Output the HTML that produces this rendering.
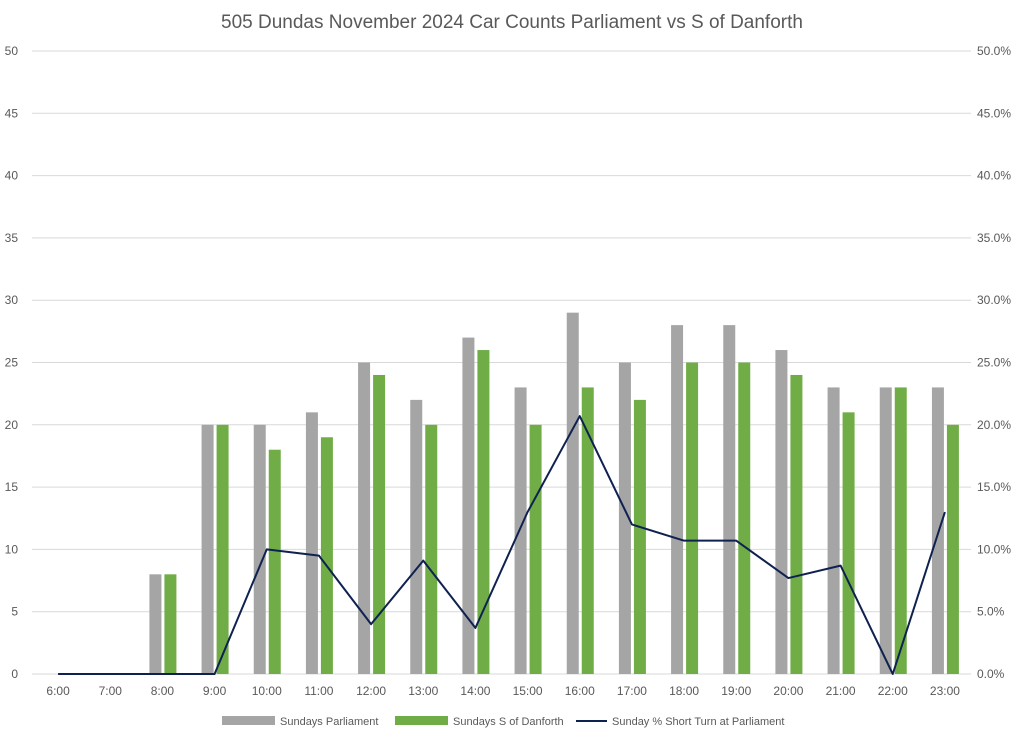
<!DOCTYPE html>
<html><head><meta charset="utf-8">
<style>
body{margin:0;background:#fff;font-family:"Liberation Sans",sans-serif;}
svg text{font-family:"Liberation Sans",sans-serif;}
</style></head>
<body>
<svg id="chart" width="1024" height="733" xmlns="http://www.w3.org/2000/svg">
<text x="512" y="28" text-anchor="middle" font-size="19" fill="#595959">505 Dundas November 2024 Car Counts Parliament vs S of Danforth</text>
<g id="grid"></g><g id="bars"></g><g id="line"></g><g id="axes"></g>
<g>
<rect x="222" y="716" width="53" height="9" fill="#a5a5a5"/>
<text x="280" y="725" font-size="11" fill="#595959">Sundays Parliament</text>
<rect x="395" y="716" width="53" height="9" fill="#70ad47"/>
<text x="453" y="725" font-size="11" fill="#595959">Sundays S of Danforth</text>
<line x1="576" y1="721" x2="607" y2="721" stroke="#0f2150" stroke-width="2"/>
<text x="612" y="725" font-size="11" fill="#595959">Sunday % Short Turn at Parliament</text>
</g>
</svg>
<script>
const categories=["6:00","7:00","8:00","9:00","10:00","11:00","12:00","13:00","14:00","15:00","16:00","17:00","18:00","19:00","20:00","21:00","22:00","23:00"];
const parliament=[0,0,8,20,20,21,25,22,27,23,29,25,28,28,26,23,23,23];
const danforth=[0,0,8,20,18,19,24,20,26,20,23,22,25,25,24,21,23,20];
const shortTurnPct=[0,0,0,0,10,9.5,4,9.1,3.7,13,20.7,12,10.7,10.7,7.7,8.7,0,13];
const leftTicks=[0,5,10,15,20,25,30,35,40,45,50];
const rightTicks=["0.0%","5.0%","10.0%","15.0%","20.0%","25.0%","30.0%","35.0%","40.0%","45.0%","50.0%"];
const NS="http://www.w3.org/2000/svg";
const L=32,R=971,T=51,B=674;
const step=(R-L)/categories.length;
const x=i=>L+step*(i+0.5);
const y=v=>B-(B-T)*v/50;
const yp=p=>B-(B-T)*p/50;
function mk(tag,parent,attrs){const e=document.createElementNS(NS,tag);for(const k in attrs)e.setAttribute(k,attrs[k]);document.getElementById(parent).appendChild(e);return e;}
leftTicks.forEach((t,i)=>{
 const g=mk("line","grid",{x1:L,x2:R,y1:y(t),y2:y(t),stroke:"#d9d9d9","stroke-width":1});
 
 
 const a=mk("text","axes",{x:18,y:y(t)+4,"text-anchor":"end","font-size":12,fill:"#595959"});a.textContent=t;
 
 
 const b=mk("text","axes",{x:977,y:y(t)+4,"font-size":12,fill:"#595959"});b.textContent=rightTicks[i];
 
 
});
categories.forEach((c,i)=>{
 const t=mk("text","axes",{x:x(i),y:695,"text-anchor":"middle","font-size":12,fill:"#595959"});t.textContent=c;
 
 
 if(parliament[i]>0){const r=mk("rect","bars",{x:x(i)-13,y:y(parliament[i]),width:12,height:B-y(parliament[i]),fill:"#a5a5a5"});
 
 }
 if(danforth[i]>0){const r=mk("rect","bars",{x:x(i)+2,y:y(danforth[i]),width:12,height:B-y(danforth[i]),fill:"#70ad47"});
 
 }
});
const pl=mk("polyline","line",{points:shortTurnPct.map((p,i)=>x(i)+","+yp(p)).join(" "),fill:"none",stroke:"#0f2150","stroke-width":2,"stroke-linejoin":"round"});


</script>
</body></html>
